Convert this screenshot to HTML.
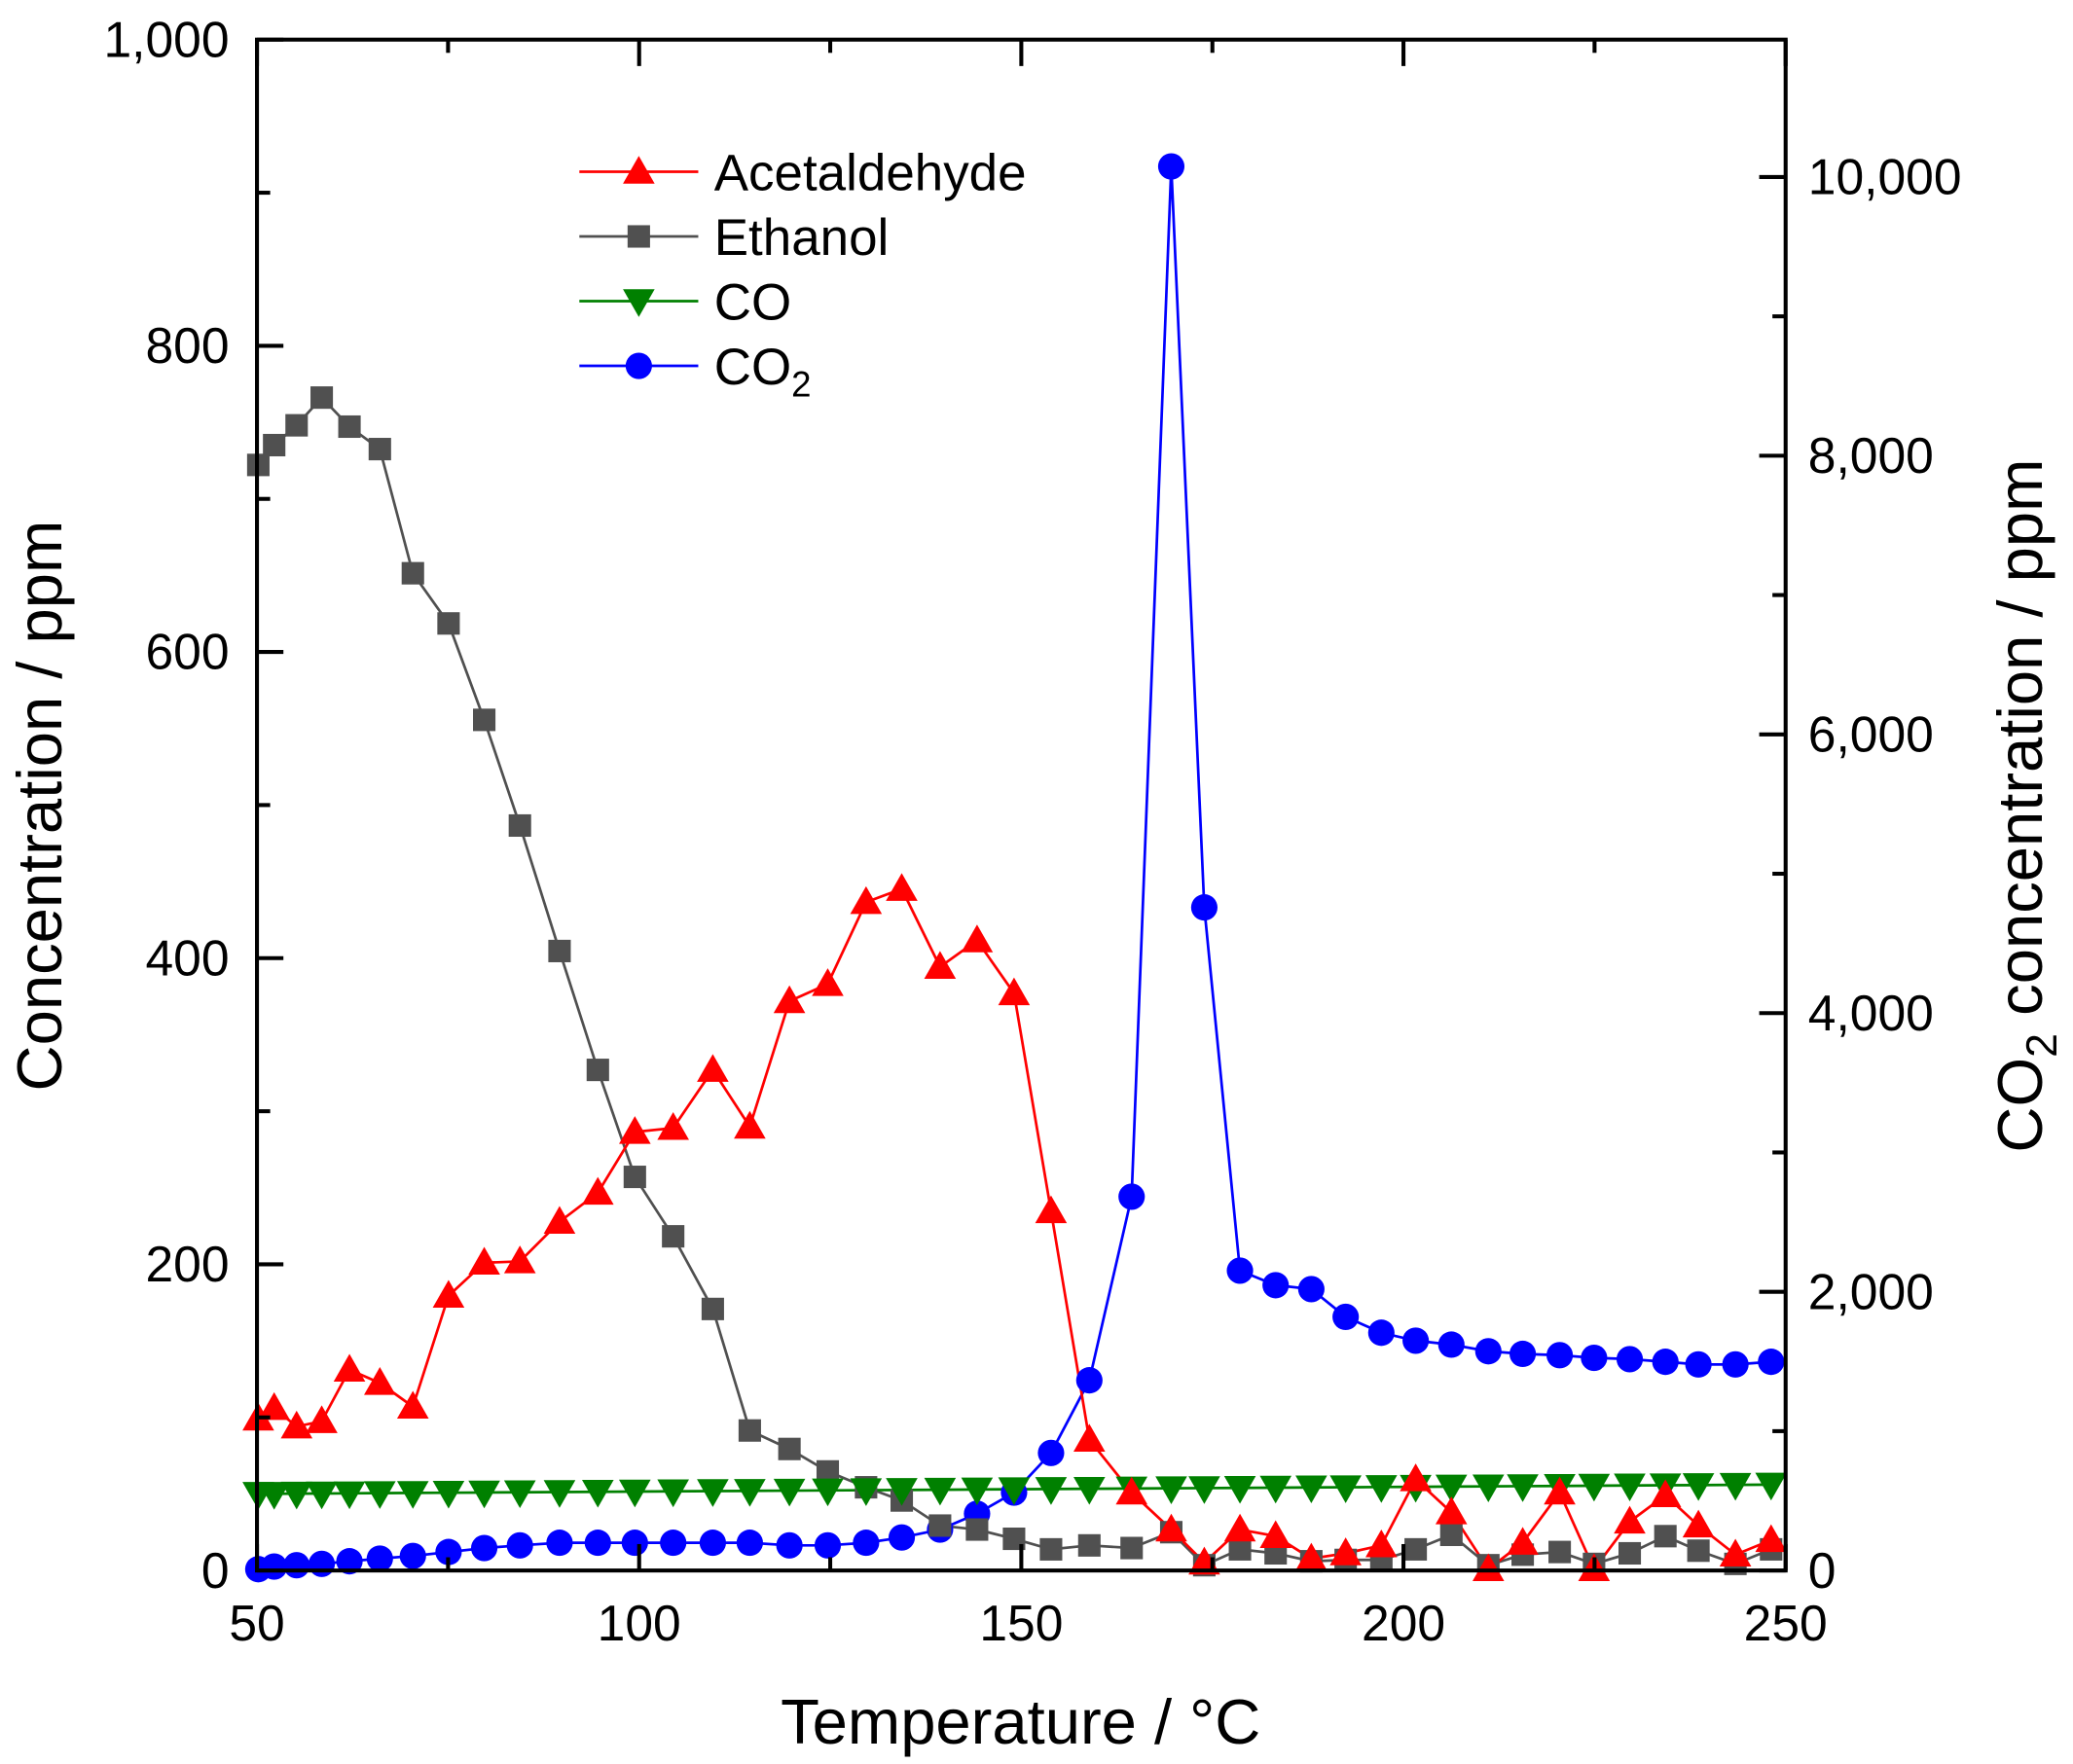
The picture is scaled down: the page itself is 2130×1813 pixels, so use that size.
<!DOCTYPE html>
<html><head><meta charset="utf-8"><style>html,body{margin:0;padding:0;background:#fff}svg{display:block}text{font-family:"Liberation Sans",Arial,sans-serif;fill:#000}</style></head>
<body>
<svg width="2130" height="1813" viewBox="0 0 1568 1335.5" xmlns="http://www.w3.org/2000/svg">
<defs>
<polygon id="tu" points="0,-12 12,9 -12,9" fill="#ff0000"/>
<polygon id="td" points="0,12 12,-9 -12,-9" fill="#008000"/>
<rect id="sq" x="-8.5" y="-8.5" width="17" height="17" fill="#505050"/>
<circle id="ci" r="10" fill="#0000ff"/>
</defs>
<g id="plot"></g>
<rect x="194" y="30" width="1157" height="1159" fill="none" stroke="#000" stroke-width="3"/>
<g stroke="#000" stroke-width="3" id="ticks"></g>
<g font-size="38" id="labels"></g>
<g stroke-width="2">
<line x1="438" y1="130" x2="528" y2="130" stroke="#ff0000"/><use href="#tu" x="483" y="130"/>
<line x1="438" y1="179" x2="528" y2="179" stroke="#505050"/><use href="#sq" x="483" y="179"/>
<line x1="438" y1="228" x2="528" y2="228" stroke="#008000"/><use href="#td" x="483" y="228"/>
<line x1="438" y1="277" x2="528" y2="277" stroke="#0000ff"/><use href="#ci" x="483" y="277"/>
</g>
<g font-size="39">
<text x="540" y="144">Acetaldehyde</text>
<text x="540" y="193">Ethanol</text>
<text x="540" y="242">CO</text>
<text x="540" y="291">CO<tspan font-size="27" dy="9">2</tspan></text>
</g>
<text x="772" y="1320" font-size="48" text-anchor="middle">Temperature / °C</text>
<text transform="translate(46,610) rotate(-90)" font-size="48" text-anchor="middle">Concentration / ppm</text>
<text transform="translate(1545,610) rotate(-90)" font-size="48" text-anchor="middle">CO<tspan font-size="33" dy="11">2</tspan><tspan dy="-11"> concentration / ppm</tspan></text>
<script>
const X=[195,207,224,243,264,287,312,339,366,393,423,452,480,509,539,567,597,626,655,682,711,739,767,795,824,856,886,911,938,965,992,1018,1045,1071,1098,1126,1152,1180,1206,1233,1260,1285,1313,1340];
const eth=[352,337,322,301,323,340,434,472,545,625,720,810,891,936,991,1083,1097,1114,1126,1136,1155,1158,1165,1173,1170,1172,1160,1185,1173,1176,1182,1181,1181,1173,1162,1185,1177,1175,1184,1176,1163,1174,1184,1173];
const ace=[1074,1066,1080,1076,1037,1047,1065,981,956,955,925,903,857,854,810,853,758,745,683,673,732,712,752,917,1090,1130,1158,1183,1158,1163,1180,1176,1170,1120,1145,1188,1168,1130,1188,1152,1132,1155,1177,1166];
const co2=[1188,1186,1185,1184,1182,1180,1178,1175,1172,1170,1168,1168,1168,1168,1168,1168,1170,1170,1168,1164,1158,1146,1130,1100,1045,906,126,687,962,973,976,997,1009,1015,1018,1023,1025,1026,1028,1029,1031,1033,1033,1031];
const co=X.map((x,i)=>1131-(x-195)/1145*7);
const NS="http://www.w3.org/2000/svg";
const g=document.getElementById('plot');
function line(ys,c){const p=document.createElementNS(NS,'polyline');p.setAttribute('points',X.map((x,i)=>x+','+ys[i]).join(' '));p.setAttribute('fill','none');p.setAttribute('stroke',c);p.setAttribute('stroke-width','2');g.appendChild(p);}
function marks(ys,id){X.forEach((x,i)=>{const u=document.createElementNS(NS,'use');u.setAttribute('href','#'+id);u.setAttribute('x',x);u.setAttribute('y',ys[i]);g.appendChild(u);});}
line(co2,'#0000ff');line(eth,'#505050');line(co,'#008000');line(ace,'#ff0000');
marks(co2,'ci');marks(eth,'sq');marks(co,'td');marks(ace,'tu');
const t=document.getElementById('ticks'),L=document.getElementById('labels');
function ln(a,b,c,d){const l=document.createElementNS(NS,'line');l.setAttribute('x1',a);l.setAttribute('y1',b);l.setAttribute('x2',c);l.setAttribute('y2',d);t.appendChild(l);}
function tx(x,y,s,a){const e=document.createElementNS(NS,'text');e.setAttribute('x',x);e.setAttribute('y',y);e.setAttribute('text-anchor',a);e.textContent=s;L.appendChild(e);}
for(let v=50;v<=250;v+=25){const x=194+(v-50)*5.785;const M=v%50==0;ln(x,1189,x,1189-(M?20:10));ln(x,30,x,30+(M?20:10));if(M)tx(x,1242,String(v),'middle');}
for(let v=0;v<=1000;v+=100){const y=1189-v*1.159;const M=v%200==0;ln(194,y,194+(M?20:10),y);if(M)tx(173,y+13,v==1000?'1,000':String(v),'end');}
for(let v=0;v<=10000;v+=1000){const y=1189-v*0.1055;const M=v%2000==0;ln(1351,y,1351-(M?20:10),y);if(M)tx(1368,y+13,v>=1000?(v/1000)+',000':'0','start');}
</script>
</svg>
</body></html>
